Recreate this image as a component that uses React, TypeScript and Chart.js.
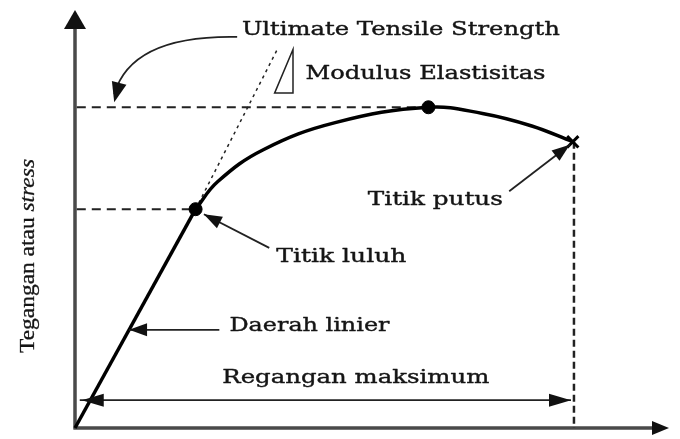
import { useEffect, useRef } from "react";
import { Chart, registerables } from "chart.js";
Chart.register(...registerables);

// ---- data (strain %, stress %) ----
const elasticStrain = [0, 20.3];
const elasticStress = [0, 52.6];
const plasticStrain = [20.3, 24.0, 31.7, 43.8, 59.5, 68.6, 76.9, 83.8];
const plasticStress = [52.6, 59.2, 66.9, 73.4, 77.1, 75.6, 72.6, 68.8];
const yieldPoint = { x: 20.3, y: 52.6 };
const utsPoint = { x: 59.5, y: 77.1 };
const breakPoint = { x: 83.8, y: 68.8 };
const modulusEnd = { x: 34.2, y: 91.4 };
const strainArrowY = 6.7;

// ---- annotation texts (anchors in data units) ----
const labels = [
  { text: "Ultimate Tensile Strength", x: 28.1, y: 95.6, w: 318 },
  { text: "Modulus Elastisitas", x: 38.8, y: 85.0, w: 240 },
  { text: "Titik putus", x: 49.3, y: 54.8, w: 135 },
  { text: "Titik luluh", x: 33.9, y: 41.0, w: 130 },
  { text: "Daerah linier", x: 26.0, y: 24.5, w: 160 },
  { text: "Regangan maksimum", x: 24.8, y: 11.9, w: 267 },
];
const arrows = [
  { from: { x: 73.1, y: 56.9 }, to: { x: 83.3, y: 68.1 } },
  { from: { x: 32.7, y: 43.3 }, to: { x: 21.7, y: 51.4 } },
  { from: { x: 24.3, y: 23.6 }, to: { x: 9.1, y: 23.6 } },
];
const curvedArrow = { from: { x: 27.3, y: 94.0 }, ctrl: { x: 9.5, y: 94.5 }, to: { x: 6.6, y: 78.3 } };
const triangle = [{ x: 33.6, y: 80.5 }, { x: 36.7, y: 91.0 }, { x: 36.7, y: 80.5 }];
const yTitle = ["Tegangan atau ", "stress"];

const zip = (xs: number[], ys: number[]) => xs.map((x, i) => ({ x, y: ys[i] }));

function head(ctx: CanvasRenderingContext2D, fx: number, fy: number, tx: number, ty: number, len = 18, half = 6.5) {
  const a = Math.atan2(ty - fy, tx - fx);
  ctx.beginPath();
  ctx.moveTo(tx, ty);
  ctx.lineTo(tx - len * Math.cos(a) + half * Math.sin(a), ty - len * Math.sin(a) - half * Math.cos(a));
  ctx.lineTo(tx - len * Math.cos(a) - half * Math.sin(a), ty - len * Math.sin(a) + half * Math.cos(a));
  ctx.closePath();
  ctx.fill();
}

const diagramPlugin = {
  id: "diagram",
  beforeDatasetsDraw(chart: any) {
    const { ctx, scales, chartArea } = chart;
    const xs = scales.x, ys = scales.y;
    const ox = xs.getPixelForValue(0), oy = ys.getPixelForValue(0);
    ctx.save();
    ctx.strokeStyle = "#4a4a4a";
    ctx.fillStyle = "#111";
    ctx.lineWidth = 3.5;
    ctx.beginPath();
    ctx.moveTo(ox, oy + 1.5);
    ctx.lineTo(ox, chartArea.top + 12);
    ctx.moveTo(ox - 1.5, oy);
    ctx.lineTo(chartArea.right - 12, oy);
    ctx.stroke();
    head(ctx, ox, oy, ox, chartArea.top - 2, 19, 11);
    head(ctx, ox, oy, chartArea.right, oy, 17, 7);
    ctx.restore();
  },
  afterDatasetsDraw(chart: any) {
    const { ctx, scales } = chart;
    const px = (p: { x: number; y: number }) => [scales.x.getPixelForValue(p.x), scales.y.getPixelForValue(p.y)];
    ctx.save();
    ctx.strokeStyle = "#222";
    ctx.fillStyle = "#111";
    ctx.lineWidth = 1.8;
    for (const a of arrows) {
      const [fx, fy] = px(a.from), [tx, ty] = px(a.to);
      ctx.beginPath();
      ctx.moveTo(fx, fy);
      ctx.lineTo(tx, ty);
      ctx.stroke();
      head(ctx, fx, fy, tx, ty);
    }
    {
      const [fx, fy] = px(curvedArrow.from), [cx, cy] = px(curvedArrow.ctrl), [tx, ty] = px(curvedArrow.to);
      ctx.beginPath();
      ctx.moveTo(fx, fy);
      ctx.quadraticCurveTo(cx, cy, tx, ty - 8);
      ctx.stroke();
      head(ctx, cx, cy, tx, ty, 20, 7.5);
    }
    {
      const [lx, ly] = px({ x: 0.8, y: strainArrowY });
      const [rx] = px({ x: breakPoint.x - 0.3, y: strainArrowY });
      ctx.beginPath();
      ctx.moveTo(lx, ly);
      ctx.lineTo(rx, ly);
      ctx.stroke();
      head(ctx, rx, ly, lx + 2, ly, 22, 6.5);
      head(ctx, lx, ly, rx, ly, 22, 6.5);
    }
    ctx.lineWidth = 1.5;
    ctx.beginPath();
    triangle.forEach((p, i) => {
      const [x, y] = px(p);
      if (i === 0) ctx.moveTo(x, y);
      else ctx.lineTo(x, y);
    });
    ctx.closePath();
    ctx.stroke();
    ctx.fillStyle = "#151515";
    ctx.strokeStyle = "#151515";
    ctx.lineWidth = 0.4;
    ctx.lineJoin = "round";
    ctx.textBaseline = "middle";
    ctx.textAlign = "left";
    ctx.font = "19px 'DejaVu Serif'";
    for (const l of labels) {
      const [x, y] = px(l);
      const m = ctx.measureText(l.text).width;
      ctx.save();
      ctx.translate(x, y);
      ctx.scale(l.w / m, 1);
      ctx.fillText(l.text, 0, 0);
      ctx.strokeText(l.text, 0, 0);
      ctx.restore();
    }
    {
      const cx = 28, cy = 256, total = 194;
      const f1 = "21px 'Liberation Serif'", f2 = "italic 21px 'Liberation Serif'";
      ctx.font = f1;
      const w1 = ctx.measureText(yTitle[0]).width;
      ctx.font = f2;
      const w2 = ctx.measureText(yTitle[1]).width;
      const s = total / (w1 + w2);
      ctx.save();
      ctx.translate(cx, cy);
      ctx.rotate(-Math.PI / 2);
      ctx.scale(s, 1);
      ctx.translate(-(w1 + w2) / 2, 0);
      ctx.lineWidth = 0.3;
      ctx.font = f1;
      ctx.fillText(yTitle[0], 0, 0);
      ctx.strokeText(yTitle[0], 0, 0);
      ctx.font = f2;
      ctx.fillText(yTitle[1], w1, 0);
      ctx.strokeText(yTitle[1], w1, 0);
      ctx.restore();
    }
    ctx.restore();
  },
};

export default function App() {
  const ref = useRef<HTMLCanvasElement>(null);
  useEffect(() => {
    document.body.style.margin = "0";
    const guide = (pts: { x: number; y: number }[], dash: number[], w = 2) => ({
      type: "line" as const,
      data: pts,
      borderColor: "#222",
      borderWidth: w,
      borderDash: dash,
      pointRadius: 0,
      clip: false as any,
      tension: 0,
    });
    const chart = new Chart(ref.current!, {
      type: "line",
      data: {
        datasets: [
          {
            data: [yieldPoint, utsPoint],
            showLine: false,
            pointRadius: 6.5,
            pointBackgroundColor: "#000",
            pointBorderColor: "#000",
            clip: false as any,
          },
          {
            data: [breakPoint],
            showLine: false,
            pointStyle: "crossRot",
            pointRadius: 8,
            pointBorderWidth: 3,
            pointBorderColor: "#000",
            clip: false as any,
          },
          {
            data: zip(elasticStrain, elasticStress),
            borderColor: "#000",
            borderWidth: 3.5,
            pointRadius: 0,
            tension: 0,
            clip: false as any,
          },
          {
            data: zip(plasticStrain, plasticStress),
            borderColor: "#000",
            borderWidth: 3.5,
            pointRadius: 0,
            tension: 0.4,
            clip: false as any,
          },
          guide([{ x: 0.3, y: utsPoint.y }, utsPoint], [9, 6]),
          guide([{ x: 0.3, y: yieldPoint.y }, yieldPoint], [9, 6]),
          guide([{ x: breakPoint.x + 0.2, y: breakPoint.y }, { x: breakPoint.x + 0.2, y: 0 }], [7, 4], 2.5),
          guide([yieldPoint, modulusEnd], [3, 4], 1.5),
        ],
      },
      options: {
        responsive: false,
        maintainAspectRatio: false,
        animation: false,
        layout: { padding: { left: 75, right: 0, top: 12, bottom: 7 } },
        plugins: { legend: { display: false }, tooltip: { enabled: false } },
        scales: {
          x: { type: "linear", display: false, min: 0, max: 100 },
          y: { type: "linear", display: false, min: 0, max: 100 },
        },
      },
      plugins: [diagramPlugin],
    });
    return () => chart.destroy();
  }, []);
  return (
    <div style={{ width: 680, height: 439, background: "#fff" }}>
      <canvas ref={ref} width={680} height={439} />
    </div>
  );
}
